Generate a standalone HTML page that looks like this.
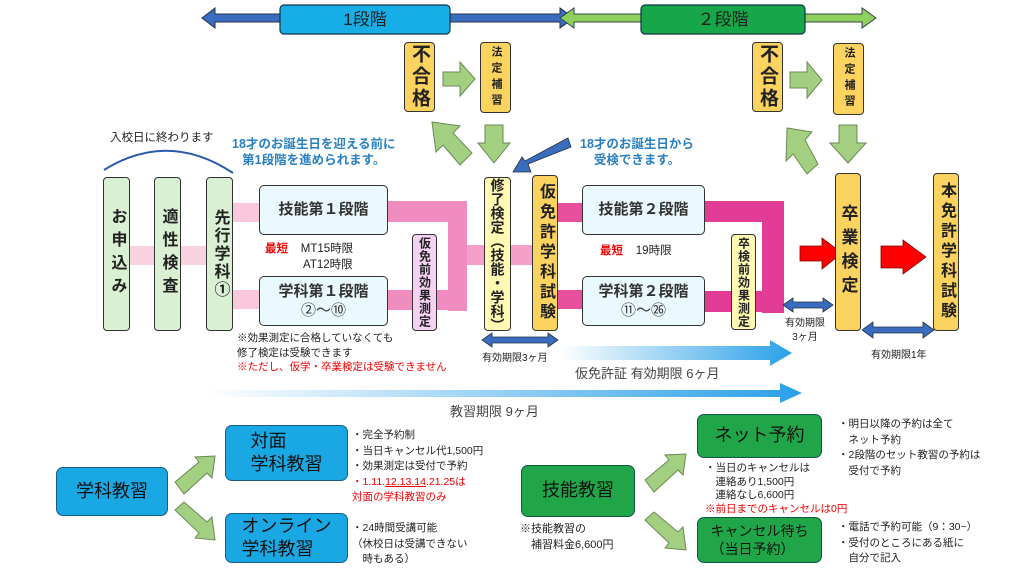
<!DOCTYPE html>
<html><head><meta charset="utf-8"><style>
body{margin:0;width:1024px;height:576px;background:#fff;position:relative;overflow:hidden;font-family:"Liberation Sans","Noto Sans CJK JP",sans-serif;color:#222}
.a{position:absolute}
.v{position:absolute;writing-mode:vertical-rl;text-orientation:upright;display:flex;align-items:center;justify-content:center;box-sizing:border-box;border:1.5px solid #333;border-radius:4px;font-weight:bold;line-height:1}
.yl{background:#fcd35e}
.gr{background:#d9f1d2}
.ly{background:#fff9b4}
.pk{background:#f6d2f2}
.bx{position:absolute;box-sizing:border-box;border:1.5px solid #333;border-radius:5px;background:#eaf9fd;display:flex;flex-direction:column;align-items:center;justify-content:center;font-weight:bold;font-size:15px;color:#333;line-height:1.3}
.bb{position:absolute;box-sizing:border-box;border:1.5px solid #1a5a8a;border-radius:7px;display:flex;flex-direction:column;align-items:center;justify-content:center;font-size:18px;line-height:1.3;color:#111}
.t{position:absolute;font-size:10.5px;line-height:15.5px;white-space:nowrap}
.r{color:#e00}
</style></head><body>
<svg class="a" style="left:0;top:0" width="1024" height="576">
<defs>
<linearGradient id="g1" x1="0" x2="1"><stop offset="0" stop-color="#fff"/><stop offset="1" stop-color="#2aa0e8"/></linearGradient>
</defs>
<polygon points="202,18 215,8 215,14 560,14 560,8 574,18 560,28 560,22 215,22 215,28" fill="#3a6cc0" stroke="#234" stroke-width="1"/>
<polygon points="560,18 574,8 574,14 862,14 862,8 876,18 862,28 862,22 574,22 574,28" fill="#8fd05a" stroke="#345" stroke-width="1"/>
<rect x="280" y="5" width="170" height="29" rx="4" fill="#17aee8" stroke="#134" stroke-width="1.2"/>
<rect x="641" y="5" width="164" height="29" rx="4" fill="#18a64a" stroke="#134" stroke-width="1.2"/>
<g fill="#a3cf80" stroke="#6a8a55" stroke-width="1">
<polygon points="443,72 460,72 460,62 475,79 460,96 460,86 443,86"/>
<polygon points="790,72 807,72 807,62 822,80 807,98 807,88 790,88"/>
<polygon points="485,125 503,125 503,143 510,143 494,163 478,143 485,143"/>
<polygon points="839,125 857,125 857,143 866,143 848,163 830,143 839,143"/>
<polygon points="472,153 460,165 443,145 436,152 432,122 460,126 453,133"/>
<polygon points="818,164 807,174 793,154 786,161 787,128 812,132 805,140"/>
<polygon points="175,482 199,462 195,457 215,456 212,478 207,473 184,494"/>
<polygon points="175,510 184,502 207,522 212,517 215,540 195,538 199,533"/>
<polygon points="645,480 669,460 665,455 686,454 683,475 678,470 654,492"/>
<polygon points="645,520 654,512 678,532 683,527 686,550 665,548 669,543"/>
</g>
<path d="M104,170 Q168,130 233,173" fill="none" stroke="#2a5ab0" stroke-width="2"/>
<rect x="129" y="246" width="78" height="19" fill="#f9d2e0"/>
<rect x="231" y="203" width="30" height="19" fill="#f9c8dc"/>
<rect x="231" y="290" width="30" height="19" fill="#f9c8dc"/>
<rect x="387" y="201" width="80" height="21" fill="#f08cc0"/>
<rect x="448" y="201" width="19" height="110" fill="#f08cc0"/>
<rect x="387" y="290" width="62" height="20" fill="#f08cc0"/>
<rect x="467" y="245" width="18" height="20" fill="#f4a0c8"/>
<rect x="511" y="245" width="22" height="20" fill="#f4a0c8"/>
<rect x="557" y="203" width="27" height="19" fill="#e8509e"/>
<rect x="557" y="290" width="27" height="19" fill="#e8509e"/>
<rect x="704" y="201" width="80" height="21" fill="#e23c96"/>
<rect x="762" y="201" width="22" height="112" fill="#e23c96"/>
<rect x="704" y="291" width="60" height="21" fill="#e23c96"/>
<polygon points="568,138 571,147 528,164 531,172 513,172 522,157 525,161" fill="#3a6cc0" stroke="#234" stroke-width="0.8"/>
<polygon points="800,246 822,246 822,238 842,253 822,269 822,261 800,261" fill="#f00" stroke="#800" stroke-width="0.8"/>
<polygon points="881,246 903,246 903,240 926,257 903,274 903,268 881,268" fill="#f00" stroke="#800" stroke-width="0.8"/>
<g fill="#3a6cc0" stroke="#234" stroke-width="0.8">
<polygon points="482,340 492,333 492,337 548,337 548,333 558,340 548,347 548,343 492,343 492,347"/>
<polygon points="783,305 793,298 793,302 823,302 823,298 833,305 823,312 823,308 793,308 793,312"/>
<polygon points="862,330 873,322 873,327 923,327 923,322 934,330 923,338 923,333 873,333 873,338"/>
</g>
<polygon points="560,346 770,346 770,340 792,353 770,366 770,360 560,360" fill="url(#g1)"/>
<polygon points="205,393 212,386 212,390 780,390 780,383 802,393 780,403 780,397 212,397 212,401" fill="url(#g1)"/>
</svg>

<div class="a" style="left:280px;top:5px;width:170px;height:29px;line-height:29px;text-align:center;font-size:17px">1段階</div>
<div class="a" style="left:641px;top:5px;width:164px;height:29px;line-height:29px;text-align:center;font-size:17px">２段階</div>

<div class="v yl" style="left:404px;top:42px;width:31px;height:70px;font-size:19px;letter-spacing:3px">不合格</div>
<div class="v yl" style="left:480px;top:42px;width:31px;height:71px;font-size:11px;letter-spacing:5px">法定補習</div>
<div class="v yl" style="left:752px;top:42px;width:31px;height:70px;font-size:19px;letter-spacing:3px">不合格</div>
<div class="v yl" style="left:833px;top:43px;width:31px;height:72px;font-size:11px;letter-spacing:5px">法定補習</div>

<div class="t" style="left:110px;top:131px;font-size:11.5px">入校日に終わります</div>
<div class="t" style="left:232px;top:136px;font-size:12.5px;line-height:16px;color:#2a80c0;font-weight:bold;text-align:center">18才のお誕生日を迎える前に<br>第1段階を進められます。</div>
<div class="t" style="left:580px;top:136px;font-size:12.5px;line-height:16px;color:#2a80c0;font-weight:bold;text-align:center">18才のお誕生日から<br>受検できます。</div>

<div class="v gr" style="left:103px;top:177px;width:27px;height:154px;font-size:16px;letter-spacing:7px">お申込み</div>
<div class="v gr" style="left:154px;top:177px;width:27px;height:154px;font-size:16px;letter-spacing:7px">適性検査</div>
<div class="v gr" style="left:206px;top:177px;width:27px;height:154px;font-size:16px;letter-spacing:2px">先行学科①</div>

<div class="bx" style="left:259px;top:185px;width:129px;height:50px">技能第１段階</div>
<div class="bx" style="left:259px;top:276px;width:129px;height:50px">学科第１段階<span style="font-weight:normal">②～⑩</span></div>
<div class="t" style="left:265px;top:242px;font-size:11.5px"><b class="r">最短</b>&nbsp;&nbsp;&nbsp;&nbsp;MT15時限</div>
<div class="t" style="left:303px;top:258px;font-size:11.5px">AT12時限</div>
<div class="v pk" style="left:412px;top:234px;width:25px;height:97px;font-size:12px;letter-spacing:1px">仮免前効果測定</div>
<div class="t" style="left:237px;top:331px;font-size:10.5px;line-height:14.5px">※効果測定に合格していなくても<br>修了検定は受験できます<br><span class="r">※ただし、仮学・卒業検定は受験できません</span></div>

<div class="v ly" style="left:484px;top:177px;width:27px;height:154px;font-size:14px">修了検定（技能・学科）</div>
<div class="v yl" style="left:532px;top:175px;width:26px;height:156px;font-size:16px;letter-spacing:4px">仮免許学科試験</div>

<div class="bx" style="left:582px;top:185px;width:123px;height:50px">技能第２段階</div>
<div class="bx" style="left:582px;top:276px;width:123px;height:50px">学科第２段階<span style="font-weight:normal">⑪～㉖</span></div>
<div class="t" style="left:600px;top:244px;font-size:11.5px"><b class="r">最短</b>&nbsp;&nbsp;&nbsp;&nbsp;19時限</div>
<div class="v ly" style="left:731px;top:234px;width:25px;height:96px;font-size:12px;letter-spacing:1px">卒検前効果測定</div>

<div class="v yl" style="left:835px;top:173px;width:26px;height:158px;font-size:17px;letter-spacing:7px">卒業検定</div>
<div class="v yl" style="left:933px;top:173px;width:26px;height:158px;font-size:16px;letter-spacing:4px">本免許学科試験</div>

<div class="t" style="left:482px;top:351px;font-size:10px">有効期限3ヶ月</div>
<div class="t" style="left:785px;top:317px;font-size:10px;text-align:center;line-height:14px">有効期限<br>3ヶ月</div>
<div class="t" style="left:871px;top:348px;font-size:10px">有効期限1年</div>
<div class="t" style="left:575px;top:366px;font-size:13px;color:#444">仮免許証 有効期限 6ヶ月</div>
<div class="t" style="left:450px;top:404px;font-size:13px;color:#444">教習期限 9ヶ月</div>

<div class="bb" style="left:56px;top:467px;width:112px;height:49px;background:#19a8e3">学科教習</div>
<div class="bb" style="left:225px;top:425px;width:123px;height:56px;background:#19a8e3">対面<br>学科教習</div>
<div class="bb" style="left:225px;top:513px;width:123px;height:50px;background:#19a8e3">オンライン<br>学科教習</div>
<div class="t" style="left:352px;top:428px">・完全予約制<br>・当日キャンセル代1,500円<br>・効果測定は受付で予約<br><span class="r">・1.11.<u>12.13.14</u>.21.25は<br>対面の学科教習のみ</span></div>
<div class="t" style="left:352px;top:521px">・24時間受講可能<br>（休校日は受講できない<br>　時もある）</div>

<div class="bb" style="left:521px;top:465px;width:114px;height:52px;background:#20a648;border-color:#154">技能教習</div>
<div class="bb" style="left:697px;top:414px;width:125px;height:44px;background:#20a648;border-color:#154">ネット予約</div>
<div class="bb" style="left:697px;top:517px;width:125px;height:46px;background:#20a648;border-color:#154;font-size:14px">キャンセル待ち<br>（当日予約）</div>
<div class="t" style="left:520px;top:522px;font-size:11px">※技能教習の<br>　補習料金6,600円</div>
<div class="t" style="left:705px;top:462px;line-height:13.5px">・当日のキャンセルは<br>　連絡あり1,500円<br>　連絡なし6,600円<br><span class="r">※前日までのキャンセルは0円</span></div>
<div class="t" style="left:838px;top:417px">・明日以降の予約は全て<br>　ネット予約<br>・2段階のセット教習の予約は<br>　受付で予約</div>
<div class="t" style="left:838px;top:520px">・電話で予約可能（9：30~）<br>・受付のところにある紙に<br>　自分で記入</div>
</body></html>
